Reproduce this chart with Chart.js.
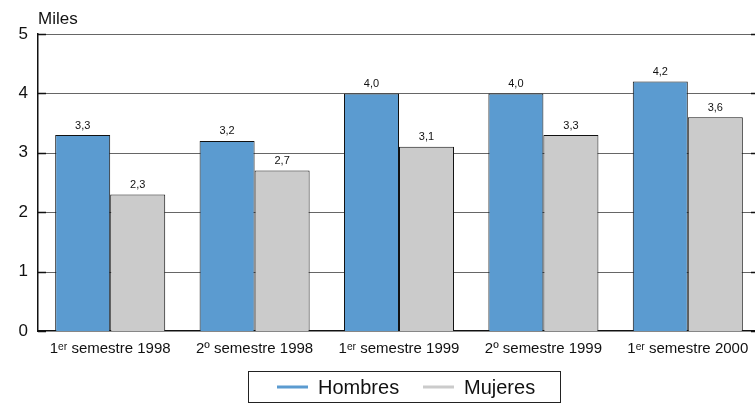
<!DOCTYPE html>
<html>
<head>
<meta charset="utf-8">
<script src="https://cdn.jsdelivr.net/npm/chart.js@4/dist/chart.umd.min.js"></script>
<style>
  html, body { margin: 0; padding: 0; background: #fff; overflow: hidden; }
  #wrap { width: 755px; height: 404px; overflow: hidden; position: relative; }
  #inner { width: 760px; height: 404px; position: relative; }
</style>
</head>
<body>
<div id="wrap"><div id="inner"><canvas id="chart"></canvas></div></div>
<script>
const categories = [
  "1ᵉʳ semestre 1998",
  "2º semestre 1998",
  "1ᵉʳ semestre 1999",
  "2º semestre 1999",
  "1ᵉʳ semestre 2000"
]
const hombres = [3.3, 3.2, 4.0, 4.0, 4.2]
const mujeres = [2.3, 2.7, 3.1, 3.3, 3.6]
const yTicks = [0, 1, 2, 3, 4, 5]

const FONT = "'Liberation Sans', Arial, Helvetica, sans-serif"
const BLUE = "#5b9bd0"
const GRAY = "#cbcbcb"
const VISIBLE_RIGHT = 754

const fmt = (v) => v.toFixed(1).replace(".", ",")

// value labels above each bar
const valueLabels = {
  id: "valueLabels",
  afterDatasetsDraw(chart) {
    const {ctx} = chart
    ctx.save()
    ctx.font = `11px ${FONT}`
    ctx.fillStyle = "#111"
    ctx.textAlign = "center"
    ctx.textBaseline = "bottom"
    chart.data.datasets.forEach((ds, i) => {
      chart.getDatasetMeta(i).data.forEach((bar, j) => {
        ctx.fillText(fmt(ds.data[j]), bar.x, bar.y - 4)
      })
    })
    ctx.restore()
  }
}

// the plot runs a little past the window; gridlines stop at the visible edge
const clipGrid = {
  id: "clipGrid",
  beforeDraw(chart) {
    const {ctx, chartArea: area, scales: {y}} = chart
    ctx.save()
    ctx.strokeStyle = "#666"
    ctx.lineWidth = 1
    yTicks.slice(1).forEach((t) => {
      const py = Math.round(y.getPixelForValue(t)) + 0.5
      ctx.beginPath()
      ctx.moveTo(area.left, py)
      ctx.lineTo(VISIBLE_RIGHT, py)
      ctx.stroke()
    })
    ctx.restore()
  }
}

// "Miles" unit, tick marks, and the boxed legend
const decorations = {
  id: "decorations",
  afterDraw(chart) {
    const {ctx, chartArea: area, scales: {y}} = chart
    ctx.save()

    ctx.font = `17px ${FONT}`
    ctx.fillStyle = "#111"
    ctx.textAlign = "left"
    ctx.textBaseline = "alphabetic"
    ctx.fillText("Miles", area.left, 24)

    ctx.strokeStyle = "#111"
    ctx.lineWidth = 1.5
    yTicks.forEach((t) => {
      const py = Math.round(y.getPixelForValue(t)) + 0.5
      ctx.beginPath()
      ctx.moveTo(area.left, py)
      ctx.lineTo(area.left + 8, py)
      ctx.moveTo(VISIBLE_RIGHT - 3, py)
      ctx.lineTo(VISIBLE_RIGHT + 1, py)
      ctx.stroke()
    })

    // legend box
    const bx = 248.5, by = 371.5, bw = 312, bh = 31
    ctx.lineWidth = 1
    ctx.strokeStyle = "#222"
    ctx.strokeRect(bx, by, bw, bh)

    const items = [
      {label: "Hombres", color: BLUE, x: 277},
      {label: "Mujeres", color: GRAY, x: 423}
    ]
    ctx.font = `20px ${FONT}`
    ctx.textBaseline = "middle"
    items.forEach((it) => {
      ctx.strokeStyle = it.color
      ctx.lineWidth = 3
      ctx.beginPath()
      ctx.moveTo(it.x, by + bh / 2)
      ctx.lineTo(it.x + 31, by + bh / 2)
      ctx.stroke()
      ctx.fillStyle = "#111"
      ctx.fillText(it.label, it.x + 41, by + bh / 2 + 1)
    })

    ctx.restore()
  }
}

new Chart(document.getElementById("chart"), {
  type: "bar",
  data: {
    labels: categories,
    datasets: [
      {label: "Hombres", data: hombres, backgroundColor: BLUE, borderColor: "#111", borderWidth: 1},
      {label: "Mujeres", data: mujeres, backgroundColor: GRAY, borderColor: "#111", borderWidth: 1}
    ]
  },
  options: {
    responsive: true,
    maintainAspectRatio: false,
    animation: false,
    layout: {padding: {top: 34, right: 0, bottom: 43, left: 0}},
    datasets: {bar: {barPercentage: 1, categoryPercentage: 0.762}},
    plugins: {
      legend: {display: false},
      tooltip: {enabled: false}
    },
    scales: {
      x: {
        grid: {display: false, drawTicks: false},
        border: {color: "#111", width: 1.5},
        ticks: {color: "#111", font: {family: FONT, size: 15}, padding: 9, maxRotation: 0, autoSkip: false},
        afterFit: (s) => { s.height = 30 }
      },
      y: {
        min: 0,
        max: 5,
        grid: {display: false, drawTicks: false},
        border: {color: "#111", width: 1.5},
        ticks: {
          stepSize: 1,
          color: "#111",
          padding: 10,
          font: {family: FONT, size: 17}
        },
        afterFit: (s) => { s.width = 38 }
      }
    }
  },
  plugins: [clipGrid, valueLabels, decorations]
})
</script>
</body>
</html>
